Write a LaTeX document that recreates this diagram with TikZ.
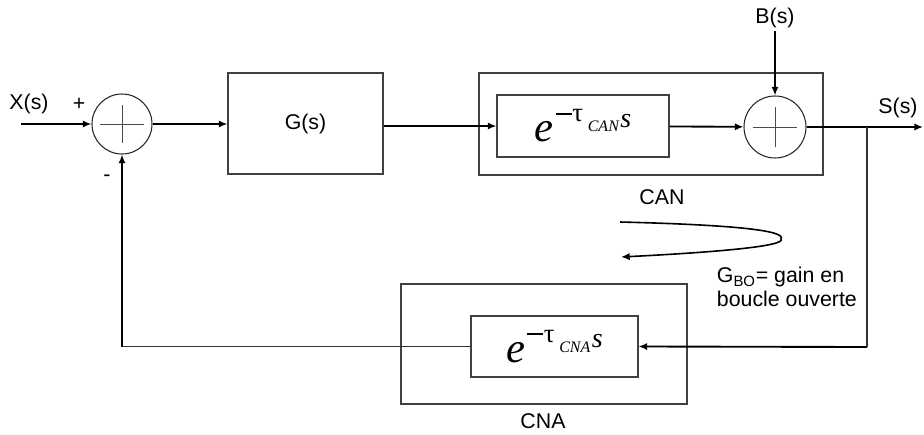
\documentclass[tikz,border=0pt]{standalone}
\usepackage{fontspec}
\setmainfont{Liberation Sans}
\newfontfamily\timesfont{Liberation Serif}
\usetikzlibrary{calc,arrows.meta}
\def\sumnode{\node[circle,draw=black!85,line width=0.8pt,minimum size=45pt,inner sep=0pt]}
\def\blocknode{\node[draw=black!75,line width=0.8pt,inner sep=0pt]}
\def\drawcross{\draw[color=black!70, line width=0.7pt]}
% delay term e^{-tau_{#1} s}, set by hand in a Times-like face
\newcommand\delayexp[1]{{\timesfont\fontsize{32}{34}\selectfont\itshape e}\kern1.5pt%
  \raisebox{20.5pt}{\rule{12pt}{1.3pt}}\kern0.5pt%
  \raisebox{15pt}{\timesfont\fontsize{20}{22}\selectfont τ}\kern3.5pt%
  \raisebox{7.5pt}{\timesfont\fontsize{12}{13}\selectfont\itshape #1}\kern1pt%
  \raisebox{11pt}{\timesfont\fontsize{21}{22}\selectfont\itshape s}}
\tikzset{
  sig/.style={line width=1.4pt,-{Latex[length=6.5pt,width=5.5pt]}},
  wire/.style={line width=0.8pt,draw=black!80},
  lbl/.style={font=\fontsize{16}{18}\selectfont,inner sep=2pt}
}

\begin{document}
\begin{tikzpicture}[x=0.75pt,y=-0.75pt]
\useasboundingbox (0,0) rectangle (924,435);

% Upper chain
\sumnode (s1) at (122,124) {};
\blocknode[minimum width=116.25pt,minimum height=75.75pt] (G) at (305.5,123.5) {\fontsize{16}{18}\selectfont G(s)};
\blocknode[minimum width=258pt,minimum height=76.5pt] (can) at (651,124) {};
\blocknode[minimum width=129pt,minimum height=46.5pt] (canIn) at (583,126) {\delayexp{CAN}};
\sumnode[minimum size=46.5pt] (s2) at (775,127) {};

% crosses in the summing points
\drawcross ($ (s1) + (-22,0) $) to ($ (s1) + (22,0) $);
\drawcross ($ (s1) + (0,-19) $) to ($ (s1) + (0,19) $);
\drawcross ($ (s2) + (-22,0) $) to ($ (s2) + (22,0) $);
\drawcross ($ (s2) + (0,-20) $) to ($ (s2) + (0,20) $);

% Lower block
\blocknode[minimum width=214.5pt,minimum height=90pt] (cna) at (544,344) {};
\blocknode[minimum width=125.25pt,minimum height=45.75pt] (cnaIn) at (554.5,346.5) {\delayexp{CNA}};

% Labels
\node[lbl] (X) at (29,104) {X(s)};
\node[lbl] (plus) at (79,104) {+};
\node[lbl] (minus) at (107,178) {-};
\node[lbl] (B) at (775,18) {B(s)};
\node[lbl] (S) at (898,108) {S(s)};
\node[lbl] (canlbl) at (662,197) {CAN};
\node[lbl] (cnalbl) at (543,421) {CNA};
\node[lbl,align=left,anchor=west] (gbo) at (714,287) {G\textsubscript{BO}= gain en\\boucle ouverte};

% Signals
\coordinate (xin) at (21,124);
\coordinate (sout) at (923,127);
\coordinate (br) at (867,127);
\coordinate (brd) at (867,347);
\coordinate (fb) at (s1 |- cnaIn);
\draw[sig] (xin) -- (s1.west);
\draw[sig] (s1.east) -- (s1.east -| G.west);
\draw[sig] (G.east |- canIn) -- (canIn.west);
\draw[sig] (canIn) -- (s2);
\draw[sig] (B) -- (s2);
\draw[sig] (s2.east) -- (sout);
\draw[wire] (br) -- (brd);
\draw[sig] (brd) -- (cnaIn.east);
\draw[wire] (cnaIn.west) -- (fb);
\draw[sig] (fb) -- (s1.south);

% Open loop gain arrow
\coordinate (loop_start) at (620,222);
\coordinate (loop_tip) at (781,239);
\coordinate (loop_end) at (621,257);
\draw[line width=1.2pt] (loop_start) .. controls (740,225) and (786,231) .. (loop_tip);
\draw[line width=1.2pt,-{Latex[length=6.5pt,width=5.5pt]}] (loop_tip) .. controls (786,246) and (720,252) .. (loop_end);
\end{tikzpicture}
\end{document}
